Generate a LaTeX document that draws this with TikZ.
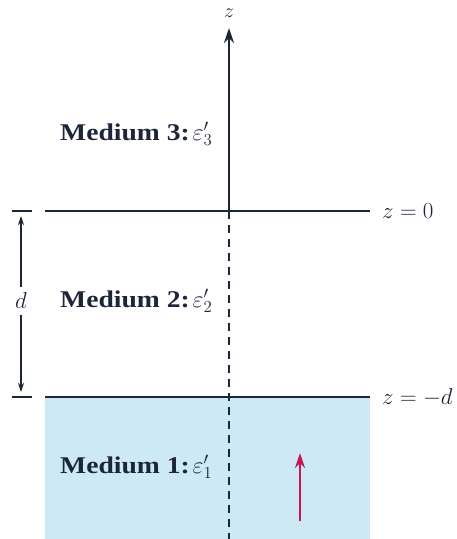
\RequirePackage{fix-cm}
\documentclass[tikz,border=0pt]{standalone}
\usepackage{fontspec}
\setmainfont{Liberation Serif}
\usetikzlibrary{arrows.meta}
\definecolor{ink}{RGB}{28,38,58}
\definecolor{med}{RGB}{206,233,246}
\definecolor{wave}{RGB}{200,20,80}
\newcommand{\medlabel}[2]{\scalebox{1.15}[1]{\bfseries Medium #1:}\kern3pt$\varepsilon'_{#2}$}
\begin{document}
\begin{tikzpicture}[x=1pt,y=-1pt,
  ink/.style={draw=ink,line width=1.8pt},
  lbl/.style={text=ink,font=\fontsize{24}{28}\selectfont,inner sep=0pt},
  mth/.style={text=ink,font=\fontsize{23}{26}\selectfont,inner sep=0pt},
  dimarrow/.style={draw=ink,line width=1.2pt,-{Stealth[length=9pt,width=6pt]}},
  tip/.style={-{Stealth[length=15pt,width=10pt]}}]
\useasboundingbox (0,0) rectangle (456,539);
% medium 1 fill
\fill[med] (45,397) rectangle (370,539);
% interfaces
\coordinate (l0) at (45,211);
\coordinate (r0) at (370,211);
\coordinate (l1) at (45,397);
\coordinate (r1) at (370,397);
\draw[ink] (l0) -- (r0);
\draw[ink] (l1) -- (r1);
\node[mth,anchor=west] (z0) at (382,211) {$z = 0$};
\node[mth,anchor=west] (zd) at (382,397) {$z = -d$};
% z axis
\coordinate (ax0) at (229,211);
\coordinate (axtop) at (229,28);
\coordinate (axbot) at (229,539);
\draw[ink,tip] (ax0) -- (axtop);
\draw[ink,dash pattern=on 8pt off 6pt] (ax0) -- (axbot);
\node[mth,font=\fontsize{20}{24}\selectfont] (zl) at (229,13) {$z$};
% dimension d
\coordinate (t0a) at (12,211); \coordinate (t0b) at (32,211);
\coordinate (t1a) at (12,397); \coordinate (t1b) at (32,397);
\draw[ink,line width=1.5pt] (t0a) -- (t0b);
\draw[ink,line width=1.5pt] (t1a) -- (t1b);
\node[mth] (d) at (21,301) {$d$};
\draw[dimarrow] (d.north) ++(0,-6) -- (21,216);
\draw[dimarrow] (d.south) ++(0,6) -- (21,392);
% labels
\node[lbl,anchor=west] (m3) at (60,134) {\medlabel{3}{3}};
\node[lbl,anchor=west] (m2) at (60,301) {\medlabel{2}{2}};
\node[lbl,anchor=west] (m1) at (60,467) {\medlabel{1}{1}};
% red arrow
\coordinate (ra) at (300,521);
\coordinate (rb) at (300,453);
\draw[draw=wave,line width=2.6pt,tip] (ra) -- (rb);
\end{tikzpicture}
\end{document}
